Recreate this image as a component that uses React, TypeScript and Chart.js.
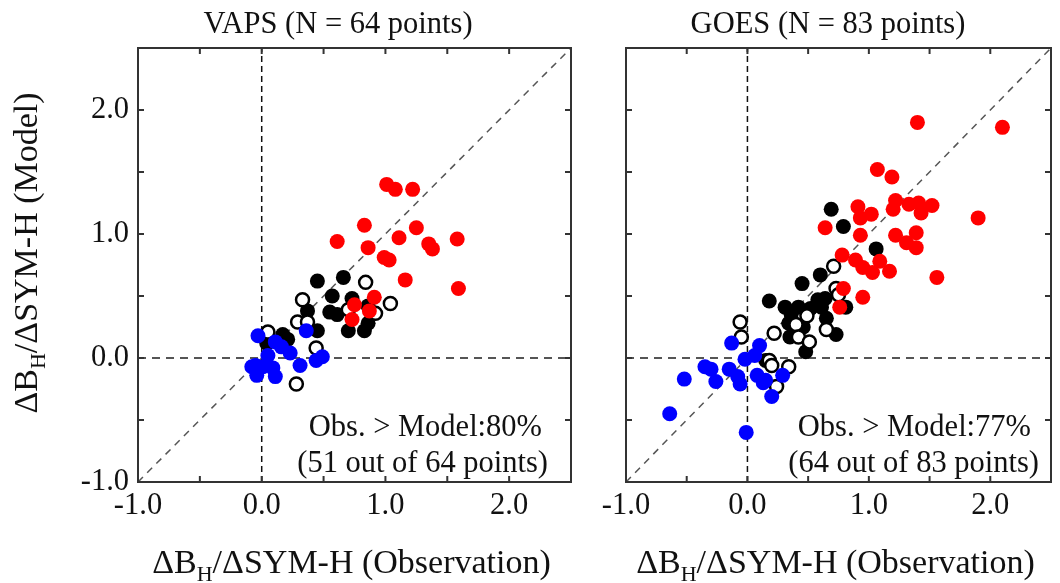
import { useEffect, useRef } from "react";
import { Chart, registerables } from "chart.js";

Chart.register(...registerables);

const FONT = '"Liberation Serif", "Times New Roman", serif';
const FONT_SIZE = 30.5;
const AXIS_TITLE_SIZE = 34;

// Axis range and tick labels shared by both panels
const AXIS_MIN = -1.0;
const AXIS_MAX = 2.5;
const MINOR_TICKS = [-0.5, 0.0, 0.5, 1.0, 1.5, 2.0];
const LABELED_TICKS = [-1.0, 0.0, 1.0, 2.0];

// ---------- VAPS ----------
const vapsRedX = [1.01, 1.08, 1.22, 0.83, 1.25, 0.61, 1.11, 0.86, 1.35, 1.38, 1.58, 0.99, 1.03, 1.16, 1.59, 0.91, 0.75, 0.73, 0.87];
const vapsRedY = [1.40, 1.36, 1.36, 1.07, 1.05, 0.94, 0.97, 0.89, 0.92, 0.88, 0.96, 0.81, 0.79, 0.63, 0.56, 0.49, 0.43, 0.31, 0.38];

const vapsBlackX = [0.45, 0.66, 0.57, 0.73, 0.37, 0.55, 0.61, 0.86, 0.45, 0.70, 0.83, 0.86, 0.17, 0.04, 0.21];
const vapsBlackY = [0.62, 0.65, 0.50, 0.48, 0.38, 0.37, 0.35, 0.42, 0.22, 0.22, 0.22, 0.28, 0.19, 0.12, 0.15];

const vapsOpenX = [0.84, 0.33, 1.04, 0.70, 0.92, 0.29, 0.37, 0.05, 0.44, 0.28];
const vapsOpenY = [0.61, 0.47, 0.44, 0.39, 0.36, 0.29, 0.29, 0.21, 0.08, -0.21];

const vapsBlueX = [0.36, -0.03, 0.11, 0.16, 0.23, 0.31, 0.05, 0.44, 0.49, -0.08, -0.04, 0.01, 0.09, 0.11, -0.05];
const vapsBlueY = [0.22, 0.18, 0.13, 0.09, 0.04, -0.06, 0.02, -0.02, 0.01, -0.07, -0.14, -0.07, -0.08, -0.15, -0.06];

// ---------- GOES ----------
const goesRedX = [1.40, 2.10, 1.07, 1.19, 0.91, 1.02, 0.93, 1.22, 1.20, 1.33, 1.41, 1.43, 1.52, 1.90, 0.93, 1.22, 1.39, 1.31, 1.39, 0.89, 0.95, 1.03, 1.09, 1.17, 1.56, 0.95, 0.64, 0.78, 0.79, 0.76];
const goesRedY = [1.90, 1.86, 1.52, 1.46, 1.22, 1.16, 1.13, 1.27, 1.20, 1.24, 1.25, 1.17, 1.23, 1.13, 0.99, 0.99, 1.01, 0.93, 0.89, 0.79, 0.73, 0.69, 0.78, 0.70, 0.65, 0.49, 1.05, 0.83, 0.56, 0.41];

const goesBlackX = [0.69, 0.79, 1.06, 0.60, 0.45, 0.18, 0.31, 0.42, 0.36, 0.58, 0.64, 0.61, 0.52, 0.34, 0.46, 0.35, 0.73, 0.65, 0.81, 0.48, 0.40, 0.15];
const goesBlackY = [1.20, 1.06, 0.88, 0.67, 0.60, 0.46, 0.41, 0.41, 0.35, 0.47, 0.48, 0.41, 0.40, 0.28, 0.25, 0.17, 0.19, 0.32, 0.41, 0.05, 0.23, -0.02];

const goesOpenX = [0.71, 0.73, 0.75, 0.49, 0.40, 0.22, 0.65, 0.42, 0.51, -0.06, -0.05, 0.18, 0.20, 0.34, 0.24];
const goesOpenY = [0.74, 0.56, 0.51, 0.34, 0.27, 0.20, 0.23, 0.17, 0.13, 0.29, 0.17, -0.02, -0.06, -0.07, -0.23];

const goesBlueX = [-0.13, 0.10, 0.06, -0.02, -0.35, -0.30, -0.15, -0.08, -0.52, -0.26, -0.06, 0.08, 0.15, 0.13, 0.29, 0.20, -0.64, -0.01];
const goesBlueY = [0.12, 0.10, 0.02, -0.01, -0.07, -0.09, -0.09, -0.15, -0.17, -0.19, -0.21, -0.14, -0.18, -0.20, -0.14, -0.31, -0.45, -0.60];

type Group = { xs: number[]; ys: number[]; style: "red" | "black" | "open" | "blue" };

type PanelSpec = {
  title: string;
  titleCenter: number;
  line1: string;
  line1Right: number;
  line2: string;
  line2Right: number;
  groups: Group[];
  left: number;
  width: number;
  yAxisWidth: number;
  rightPad: number;
  showYLabels: boolean;
};

const toPoints = (xs: number[], ys: number[]) => xs.map((x, i) => ({ x, y: ys[i] }));

const VAPS: PanelSpec = {
  title: "VAPS (N = 64 points)",
  titleCenter: 338,
  line1: "Obs. > Model:80%",
  line1Right: 542,
  line2: "(51 out of 64 points)",
  line2Right: 548,
  groups: [
    { xs: vapsBlackX, ys: vapsBlackY, style: "black" },
    { xs: vapsOpenX, ys: vapsOpenY, style: "open" },
    { xs: vapsBlueX, ys: vapsBlueY, style: "blue" },
    { xs: vapsRedX, ys: vapsRedY, style: "red" },
  ],
  left: 0,
  width: 600,
  yAxisWidth: 138,
  rightPad: 29,
  showYLabels: true,
};

const GOES: PanelSpec = {
  title: "GOES (N = 83 points)",
  titleCenter: 828,
  line1: "Obs. > Model:77%",
  line1Right: 1031,
  line2: "(64 out of 83 points)",
  line2Right: 1039,
  groups: [
    { xs: goesBlackX, ys: goesBlackY, style: "black" },
    { xs: goesOpenX, ys: goesOpenY, style: "open" },
    { xs: goesBlueX, ys: goesBlueY, style: "blue" },
    { xs: goesRedX, ys: goesRedY, style: "red" },
  ],
  left: 590,
  width: 470,
  yAxisWidth: 36,
  rightPad: 2,
  showYLabels: false,
};

const ORDER: Record<Group["style"], number> = { black: 4, open: 3, blue: 2, red: 1 };

function markerDataset(g: Group) {
  const base = {
    type: "scatter" as const,
    data: toPoints(g.xs, g.ys),
    order: ORDER[g.style],
    pointHoverRadius: 0,
  };
  if (g.style === "open") {
    return { ...base, pointRadius: 6.5, pointBorderWidth: 2.5, pointBackgroundColor: "#ffffff", pointBorderColor: "#000000" };
  }
  const color = g.style === "red" ? "#ff0000" : g.style === "blue" ? "#0000ff" : "#000000";
  return { ...base, pointRadius: 7.5, pointBorderWidth: 0, pointBackgroundColor: color, pointBorderColor: color };
}

function refLine(points: { x: number; y: number }[], color: string, width: number, dash: number[]) {
  return {
    type: "scatter" as const,
    data: points,
    showLine: true,
    borderColor: color,
    borderWidth: width,
    borderDash: dash,
    pointRadius: 0,
    pointHoverRadius: 0,
    order: 10,
  };
}

// Draws "ΔB" with subscript "H" followed by the rest of the label, centred on (0, 0) baseline
function drawDeltaLabel(ctx: CanvasRenderingContext2D, rest: string) {
  const main = `${AXIS_TITLE_SIZE}px ${FONT}`;
  const sub = `${Math.round(AXIS_TITLE_SIZE * 0.66)}px ${FONT}`;
  ctx.font = main;
  const w1 = ctx.measureText("ΔB").width;
  const w3 = ctx.measureText(rest).width;
  ctx.font = sub;
  const w2 = ctx.measureText("H").width;
  const total = w1 + w2 + w3;
  let x = -total / 2;
  ctx.textAlign = "left";
  ctx.textBaseline = "alphabetic";
  ctx.font = main;
  ctx.fillText("ΔB", x, 0);
  x += w1;
  ctx.font = sub;
  ctx.fillText("H", x, 8);
  x += w2;
  ctx.font = main;
  ctx.fillText(rest, x, 0);
}

function Panel({ spec }: { spec: PanelSpec }) {
  const ref = useRef<HTMLCanvasElement | null>(null);

  useEffect(() => {
    const canvas = ref.current;
    if (!canvas) return;

    const frame = {
      id: "frame",
      afterDatasetsDraw(chart: any) {
        const { ctx, chartArea: a, scales } = chart;
        const xs = scales.x;
        const ys = scales.y;
        ctx.save();
        // box
        ctx.strokeStyle = "#333333";
        ctx.lineWidth = 2;
        ctx.setLineDash([]);
        ctx.strokeRect(a.left, a.top, a.right - a.left, a.bottom - a.top);
        // inward ticks on all four sides
        const len = 6;
        ctx.beginPath();
        for (const v of MINOR_TICKS) {
          const px = xs.getPixelForValue(v);
          ctx.moveTo(px, a.bottom);
          ctx.lineTo(px, a.bottom - len);
          ctx.moveTo(px, a.top);
          ctx.lineTo(px, a.top + len);
          const py = ys.getPixelForValue(v);
          ctx.moveTo(a.left, py);
          ctx.lineTo(a.left + len, py);
          ctx.moveTo(a.right, py);
          ctx.lineTo(a.right - len, py);
        }
        ctx.stroke();

        ctx.fillStyle = "#111111";
        ctx.font = `${FONT_SIZE}px ${FONT}`;
        ctx.textBaseline = "alphabetic";
        // panel title
        ctx.textAlign = "center";
        ctx.fillText(spec.title, spec.titleCenter - spec.left, 33);
        // summary text
        ctx.textAlign = "right";
        ctx.fillText(spec.line1, spec.line1Right - spec.left, 436);
        ctx.fillText(spec.line2, spec.line2Right - spec.left, 472);

        // x-axis title
        ctx.save();
        ctx.translate((a.left + a.right) / 2 - 3, 573);
        drawDeltaLabel(ctx, "/ΔSYM-H (Observation)");
        ctx.restore();

        // y-axis title
        if (spec.showYLabels) {
          ctx.save();
          ctx.translate(37, 253);
          ctx.rotate(-Math.PI / 2);
          drawDeltaLabel(ctx, "/ΔSYM-H (Model)");
          ctx.restore();
        }
        ctx.restore();
      },
    };

    const datasets: any[] = [
      refLine([{ x: AXIS_MIN, y: AXIS_MIN }, { x: AXIS_MAX, y: AXIS_MAX }], "#555555", 1.5, [7, 6]),
      refLine([{ x: 0, y: AXIS_MIN }, { x: 0, y: AXIS_MAX }], "#111111", 1.5, [6, 4]),
      refLine([{ x: AXIS_MIN, y: 0 }, { x: AXIS_MAX, y: 0 }], "#555555", 2, [8, 6]),
      ...spec.groups.map(markerDataset),
    ];

    const tickLabel = (v: number | string) => {
      const n = Number(v);
      return LABELED_TICKS.some((t) => Math.abs(t - n) < 1e-6) ? n.toFixed(1) : "";
    };

    const chart = new Chart(canvas, {
      type: "scatter",
      data: { datasets },
      plugins: [frame],
      options: {
        responsive: false,
        animation: false,
        devicePixelRatio: 1,
        layout: { padding: { top: 48, right: spec.rightPad, left: 0, bottom: 0 } },
        plugins: { legend: { display: false }, tooltip: { enabled: false } },
        events: [],
        scales: {
          x: {
            type: "linear",
            min: AXIS_MIN,
            max: AXIS_MAX,
            grid: { display: false, drawTicks: false },
            border: { display: false },
            afterFit: (s: any) => {
              s.height = 101;
            },
            ticks: {
              stepSize: 0.5,
              autoSkip: false,
              maxRotation: 0,
              padding: 6,
              color: "#111111",
              font: { family: FONT, size: FONT_SIZE },
              callback: tickLabel,
            },
          },
          y: {
            type: "linear",
            min: AXIS_MIN,
            max: AXIS_MAX,
            grid: { display: false, drawTicks: false },
            border: { display: false },
            afterFit: (s: any) => {
              s.width = spec.yAxisWidth;
            },
            ticks: {
              display: spec.showYLabels,
              stepSize: 0.5,
              autoSkip: false,
              padding: 9,
              color: "#111111",
              font: { family: FONT, size: FONT_SIZE },
              callback: tickLabel,
            },
          },
        },
      } as any,
    });

    return () => chart.destroy();
  }, [spec]);

  return (
    <canvas
      ref={ref}
      width={spec.width}
      height={583}
      style={{ position: "absolute", left: spec.left, top: 0, width: spec.width, height: 583 }}
    />
  );
}

export default function App() {
  return (
    <div style={{ position: "absolute", left: 0, top: 0, width: 1060, height: 583, background: "#ffffff", overflow: "hidden" }}>
      <Panel spec={VAPS} />
      <Panel spec={GOES} />
    </div>
  );
}
